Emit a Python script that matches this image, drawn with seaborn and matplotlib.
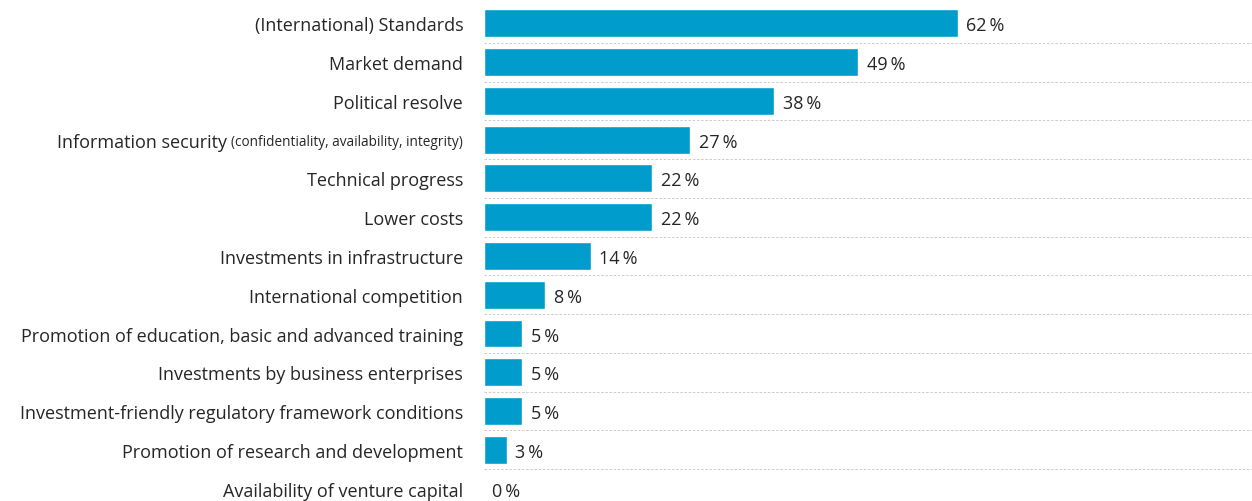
import matplotlib
matplotlib.use("Agg")
import matplotlib.pyplot as plt
import seaborn as sns
import pandas as pd

# Werte
categories = [
    "(International) Standards",
    "Market demand",
    "Political resolve",
    "Information security",
    "Technical progress",
    "Lower costs",
    "Investments in infrastructure",
    "International competition",
    "Promotion of education, basic and advanced training",
    "Investments by business enterprises",
    "Investment-friendly regulatory framework conditions",
    "Promotion of research and development",
    "Availability of venture capital",
]
values = [62, 49, 38, 27, 22, 22, 14, 8, 5, 5, 5, 3, 0]
info_note = "(confidentiality, availability, integrity)"

bar_color = "#009ccc"
text_color = "#262626"

df = pd.DataFrame({"Kategorie": categories, "Wert": values})

sns.set_style("white")
plt.rcParams["font.family"] = ["Open Sans", "DejaVu Sans"]

fig = plt.figure(figsize=(12.52, 5.02), dpi=100)
ax = fig.add_axes([484 / 1252, 0, 1 - 484 / 1252, (502 - 5.0) / 502])

sns.barplot(data=df, y="Kategorie", x="Wert", orient="h", color=bar_color,
            width=0.72, saturation=1, ax=ax)

ax.set_xlim(0, 100.5)
ax.set_ylim(12.32, -0.5)
ax.set_xlabel("")
ax.set_ylabel("")
ax.set_xticks([])
sns.despine(ax=ax, left=True, bottom=True)

# gestrichelte Trennlinien zwischen den Zeilen
for i in range(len(categories) - 1):
    ax.axhline(i + 0.5, color="#c4c4c4", lw=0.6, ls=(0, (3, 2)), zorder=0)

ax.tick_params(axis="y", length=0, pad=15, labelsize=13, labelcolor=text_color)

# Wertebeschriftungen
for i, v in enumerate(values):
    ax.text(v + 1.1, i, f"{v}\u2009%", va="center_baseline", ha="left",
            fontsize=13, color=text_color)

# Zusatz in kleiner Schrift fuer Information security
labels = [l.get_text() for l in ax.get_yticklabels()]
labels[3] = info_note
ax.set_yticks(range(len(categories)))
ax.set_yticklabels(labels)
for l in ax.get_yticklabels():
    l.set_verticalalignment("center_baseline")
small = ax.get_yticklabels()[3]
small.set_fontsize(9.8)

fig.canvas.draw()
bb = small.get_window_extent()
y_mid = ax.transData.transform((0, 3))[1]
fig.text((bb.x0 - 4) / fig.bbox.width, y_mid / fig.bbox.height, "Information security",
         ha="right", va="center_baseline", fontsize=13, color=text_color)

plt.savefig("out.png", dpi=100)
